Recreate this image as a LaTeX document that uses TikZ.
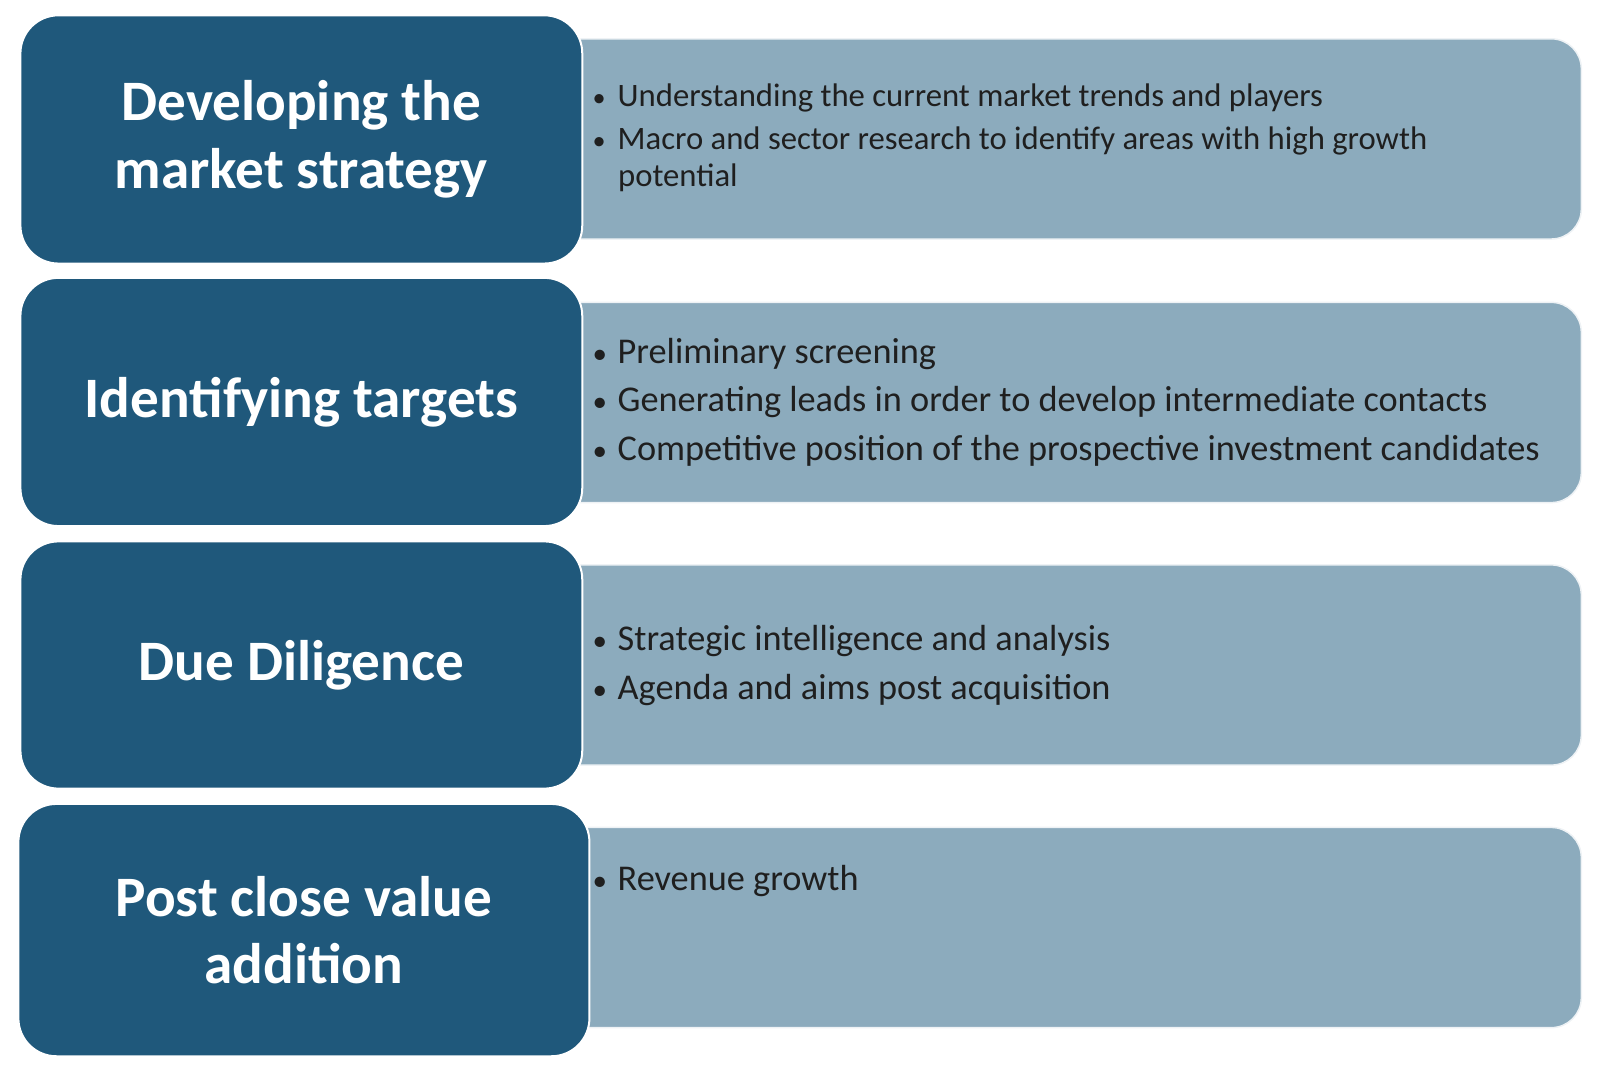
\documentclass[tikz,border=0pt]{standalone}
\usepackage{fontspec}
\setmainfont{Carlito}
\definecolor{dk}{HTML}{1F587B}
\definecolor{lt}{HTML}{8CABBD}
\newcommand{\bul}{\makebox[25pt][l]{\scalebox{0.8}{•}}}
\tikzset{
 lbox/.style={fill=lt,draw=white!85!lt,line width=1.5pt,rounded corners=30pt},
 dbox/.style={fill=dk,draw=white,line width=2pt,rounded corners=38pt},
 ttl/.style={text=white,font=\fontsize{57.2}{67.4}\selectfont\bfseries,align=center},
 bl/.style={anchor=west,align=left,text=black!88,inner sep=0pt},
}
\begin{document}
\begin{tikzpicture}[x=1.0215pt,y=-1.0215pt]
\foreach \t/\n in {38/a,296/b,553/c,810/d}{
 \draw[lbox] (540,\t) rectangle (1548,\t+196);
}
\draw[dbox] (20,15) rectangle (570,258) node[ttl,midway] (t1) {Developing the\\market strategy};
\draw[dbox] (20,272) rectangle (570,515) node[ttl,midway] (t2) {Identifying targets};
\draw[dbox] (20,530) rectangle (570,772) node[ttl,midway] (t3) {Due Diligence};
\draw[dbox] (18,787) rectangle (577,1034) node[ttl,midway] (t4) {Post close value\\addition};
\begin{scope}[font=\fontsize{32.7}{37.8}\selectfont]
\node[bl] (a1) at (580,96) {\bul Understanding the current market trends and players};
\node[bl] (a2) at (580,156) {\bul Macro and sector research to identify areas with high growth\\\hspace*{25.5pt}potential};
\end{scope}
\begin{scope}[font=\fontsize{36.3}{41}\selectfont]
\node[bl] (b1) at (580,347) {\bul Preliminary screening};
\node[bl] (b2) at (580,394) {\bul Generating leads in order to develop intermediate contacts};
\node[bl] (b3) at (580,441) {\bul Competitive position of the prospective investment candidates};
\node[bl] (c1) at (580,628) {\bul Strategic intelligence and analysis};
\node[bl] (c2) at (580,675) {\bul Agenda and aims post acquisition};
\node[bl] (d1) at (580,862) {\bul Revenue growth};
\end{scope}
\pgfresetboundingbox
\useasboundingbox (0,0) rectangle (1566.3,1043.6);
\end{tikzpicture}
\end{document}
